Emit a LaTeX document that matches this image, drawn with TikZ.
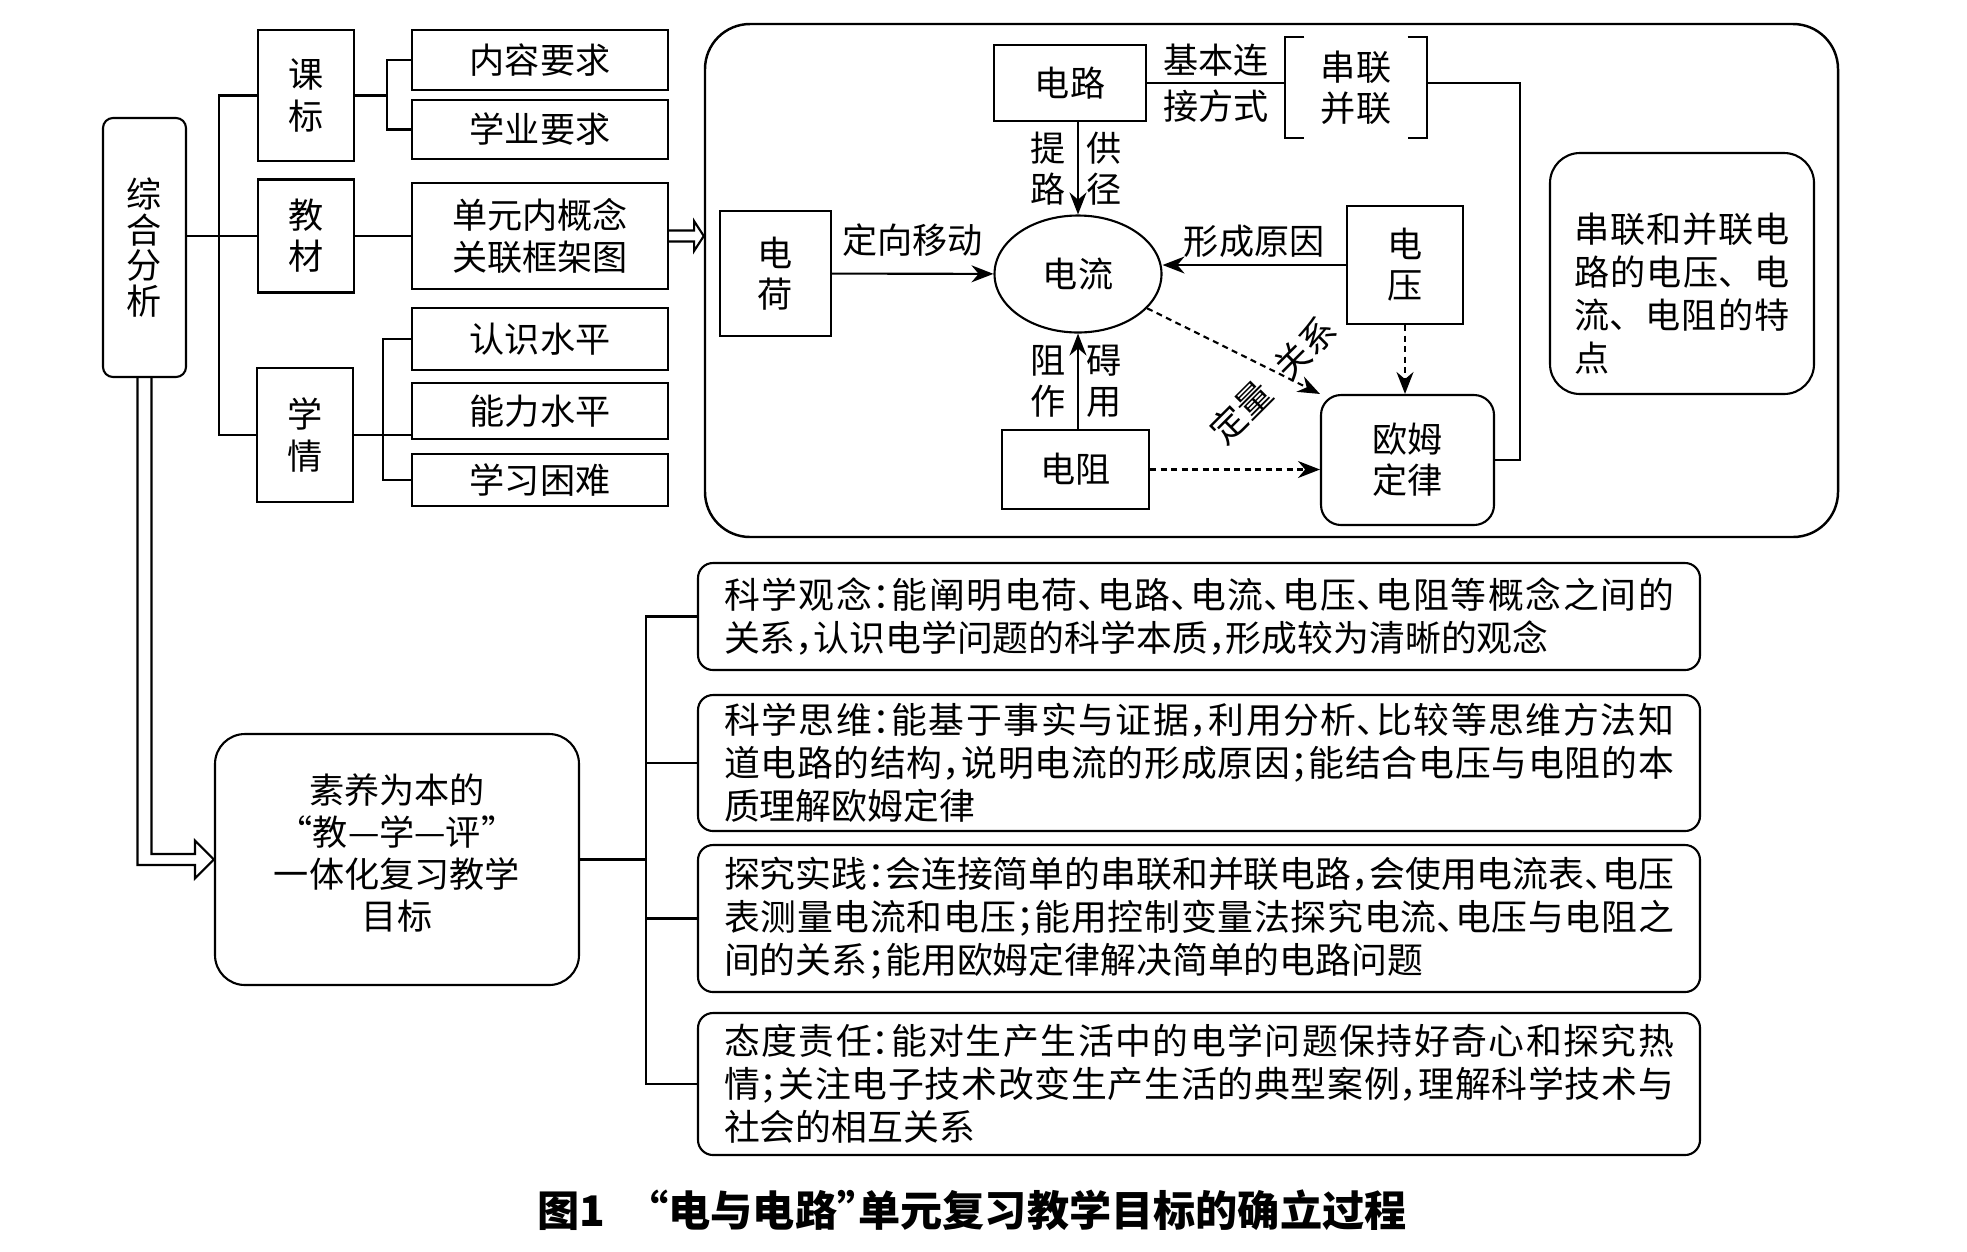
\documentclass[tikz,border=0pt]{standalone}
\usepackage{fontspec}
\setmainfont{Noto Sans CJK SC}
\newfontfamily\goalfont{Noto Sans CJK SC}[RawFeature=+halt]
\XeTeXlinebreaklocale "zh"
\XeTeXlinebreakskip=0pt plus 3pt minus 0.3pt
\usetikzlibrary{shapes.geometric, arrows.meta, calc}
\tikzstyle{box} = [rectangle, draw=black, line width=0.6pt, inner sep=0pt, align=center, font=\fontsize{10pt}{11.7pt}\selectfont]
\tikzstyle{rbox} = [box, rounded corners=1mm]
\tikzstyle{bigframe} = [rectangle, draw=black, line width=0.7pt, rounded corners=4.5mm, minimum width=113.3mm, minimum height=51.3mm]
\tikzstyle{goal} = [rectangle, rounded corners=1.5mm, draw=black, line width=0.6pt, text width=95mm, inner xsep=2.6mm, inner ysep=0pt, align=justify, font=\goalfont\fontsize{10.2pt}{12.2pt}\selectfont]
\tikzstyle{tag} = [inner sep=0pt, align=center, font=\fontsize{10pt}{11.7pt}\selectfont]
\tikzstyle{link} = [line width=0.6pt]
\tikzstyle{arrow} = [line width=0.6pt, -{Stealth[length=2.2mm, width=1.7mm]}]
\tikzstyle{dasharrow} = [arrow, dash pattern=on 0.6mm off 0.45mm]
\begin{document}
\begin{tikzpicture}[x=0.1mm, y=-0.1mm]
	\useasboundingbox (0,0) rectangle (1967,1251);
	% analysis tree
	\node (analysis) [rbox, minimum width=8.3mm, minimum height=25.9mm, font=\fontsize{10pt}{10.2pt}\selectfont] at (144.5,247.5) {综\\合\\分\\析};
	\node (standard) [box, minimum width=9.6mm, minimum height=13.1mm] at (306,95.5) {课\\标};
	\node (textbook) [box, minimum width=9.6mm, minimum height=11.3mm] at (306,236) {教\\材};
	\node (learner) [box, minimum width=9.6mm, minimum height=13.4mm] at (305,435) {学\\情};
	\node (content) [box, minimum width=25.6mm, minimum height=6mm] at (540,60) {内容要求};
	\node (academic) [box, minimum width=25.6mm, minimum height=5.9mm] at (540,129.5) {学业要求};
	\node (framework) [box, minimum width=25.6mm, minimum height=10.6mm, font=\fontsize{10pt}{12.2pt}\selectfont] at (540,236) {单元内概念\\关联框架图};
	\node (cognition) [box, minimum width=25.6mm, minimum height=6.2mm] at (540,339) {认识水平};
	\node (ability) [box, minimum width=25.6mm, minimum height=5.6mm] at (540,411) {能力水平};
	\node (difficulty) [box, minimum width=25.6mm, minimum height=5.2mm] at (540,480) {学习困难};
	\coordinate (trunk) at (219,0);
	\coordinate (stdfork) at (387,0);
	\coordinate (lrnfork) at (383,0);
	\draw [link] (analysis.east |- textbook.west) -- (textbook.west);
	\draw [link] (standard.west) -- (standard.west -| trunk) |- (learner.west);
	\draw [link] (standard.east) -- (standard.east -| stdfork);
	\draw [link] (content.west) -- (content.west -| stdfork) |- (academic.west);
	\draw [link] (textbook.east) -- (framework.west);
	\draw [link] (learner.east) -- (learner.east -| ability.west);
	\draw [link] (cognition.west) -- (cognition.west -| lrnfork) |- (difficulty.west);
	% concept frame
	\node (frame) [bigframe] at (1271.5,280.5) {};
	\draw [link] ($(framework.east)+(0,-5.5)$) -- ++(25,0) -- ++(0,-9.5) -- (framework.east -| frame.west) -- ($(framework.east)+(25,15)$) -- ++(0,-9.5) -- ++(-25,0);
	\node (charge) [box, minimum width=11.1mm, minimum height=12.5mm] at (775.5,273.5) {电\\荷};
	\node (current) [ellipse, draw=black, line width=0.6pt, inner sep=0pt, minimum width=16.7mm, minimum height=11.7mm, font=\fontsize{10pt}{11.7pt}\selectfont] at (1078,274) {电流};
	\node (circuit) [box, minimum width=15.2mm, minimum height=7.6mm] at (1070,83) {电路};
	\node (modes) [tag, minimum width=14mm, minimum height=9.9mm] at (1356,87.5) {串联\\并联};
	\node (voltage) [box, minimum width=11.6mm, minimum height=11.8mm] at (1405,265) {电\\压};
	\node (resistance) [box, minimum width=14.7mm, minimum height=7.9mm] at (1075.5,469.5) {电阻};
	\node (ohm) [rbox, rounded corners=2mm, minimum width=17.3mm, minimum height=13mm] at (1407.5,460) {欧姆\\定律};
	\node (feature) [rbox, rounded corners=3mm, minimum width=26.4mm, minimum height=24.1mm, text width=21.5mm, inner xsep=2.45mm, align=justify, font=\fontsize{10pt}{12.2pt}\selectfont] at (1682,273.5) {\rule{0pt}{7mm}串联和并联电\linebreak 路的电压、电\linebreak 流、电阻的特\linebreak 点};
	\draw [arrow] (charge) -- node[above=1.6mm, tag] {定向移动} (current);
	\draw [arrow] (current.north |- circuit.south) -- node[left=1.1mm, tag] {提\\路} node[right=0.75mm, tag] {供\\径} (current.north);
	\draw [arrow] (current.south |- resistance.north) -- node[left=1.1mm, tag] {阻\\作} node[right=0.75mm, tag] {碍\\用} (current.south);
	\draw [arrow] (voltage.west) -- node[above=0.6mm, tag] {形成原因} (voltage.west -| current.east);
	\draw [dasharrow] (voltage.south) -- (voltage.south |- ohm.north);
	\draw [dasharrow] (resistance.east) -- (resistance.east -| ohm.west);
	\draw [dasharrow] (current) -- (ohm.north west);
	\node (quant) [tag, rotate=45] at (1273,380) {定量\hspace{2mm}关系};
	\draw [link] (circuit.east) -- node[above=0.6mm, tag] {基本连} node[below=0.6mm, tag] {接方式} (circuit.east -| modes.west);
	\draw [link] ([xshift=1.9mm]modes.north west) -- (modes.north west) -- (modes.south west) -- ([xshift=1.9mm]modes.south west);
	\draw [link] ([xshift=-1.9mm]modes.north east) -- (modes.north east) -- (modes.south east) -- ([xshift=-1.9mm]modes.south east);
	\coordinate (turn) at (1520,0);
	\draw [link] (modes.east |- circuit.east) -- (circuit.east -| turn) |- (ohm.east);
	% goals
	\node (literacy) [rbox, rounded corners=3mm, minimum width=36.4mm, minimum height=25.1mm, font=\fontsize{10pt}{12pt}\selectfont] at (397,859.5) {素养为本的\\“教—学—评”\\一体化复习教学\\目标\rule[-1.6mm]{0pt}{1.6mm}};
	\draw [link] ($(analysis.south)+(-7,0)$) -- ($(analysis.south |- literacy.west)+(-7,5.5)$) -- ($(literacy.west)+(-19,5.5)$) -- ++(0,13.5) -- (literacy.west) -- ($(literacy.west)+(-19,-19)$) -- ++(0,13.5) -- ($(analysis.south |- literacy.west)+(7,-5.5)$) -- ($(analysis.south)+(7,0)$);
	\node (idea) [goal, minimum height=10.7mm] at (1199,616.5) {科学观念：能阐明电荷、电路、电流、电压、电阻等概念之间的\linebreak 关系，认识电学问题的科学本质，形成较为清晰的观念};
	\node (thinking) [goal, minimum height=13.6mm] at (1199,763) {科学思维：能基于事实与证据，利用分析、比较等思维方法知\linebreak 道电路的结构，说明电流的形成原因；能结合电压与电阻的本\linebreak 质理解欧姆定律};
	\node (practice) [goal, minimum height=14.7mm] at (1199,918.5) {探究实践：会连接简单的串联和并联电路，会使用电流表、电压\linebreak 表测量电流和电压；能用控制变量法探究电流、电压与电阻之\linebreak 间的关系；能用欧姆定律解决简单的电路问题};
	\node (attitude) [goal, minimum height=14.2mm] at (1199,1084) {态度责任：能对生产生活中的电学问题保持好奇心和探究热\linebreak 情；关注电子技术改变生产生活的典型案例，理解科学技术与\linebreak 社会的相互关系};
	\coordinate (gtrunk) at (646,0);
	\draw [link] (literacy.east) -- (literacy.east -| gtrunk);
	\draw [link] (idea.west) -- (idea.west -| gtrunk) |- (attitude.west);
	\draw [link] (thinking.west) -- (thinking.west -| gtrunk);
	\draw [link] (practice.west) -- (practice.west -| gtrunk);
	\node (caption) [font=\goalfont\bfseries\fontsize{12pt}{14pt}\selectfont] at (972,1210) {图1\hspace{1em}“电与电路”单元复习教学目标的确立过程};
\end{tikzpicture}
\end{document}
